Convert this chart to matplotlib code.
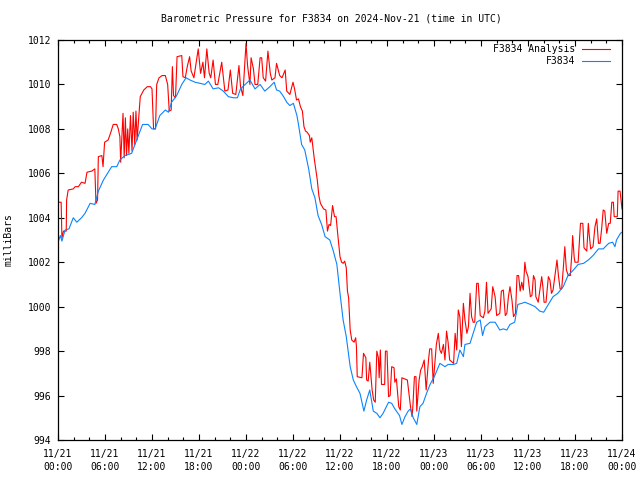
import numpy as np
import matplotlib
matplotlib.use("Agg")
import matplotlib.pyplot as plt

# Barometric pressure, station F3834 vs analysis, 3 days from 2024-11-21 00 UTC
# hours since 11/21 00:00, values in millibars
obs_hours = [0.0, 0.3, 0.5, 0.9, 1.4, 1.95, 2.4, 3.0, 3.45, 4.1, 4.7, 5.15, 5.8, 6.85,
             7.5, 7.9, 8.55, 9.4, 10.05, 10.8, 11.5, 12.0, 12.4, 13.0, 13.7, 14.1, 14.5,
             15.15, 15.8, 16.35, 16.85, 17.5, 18.1, 18.75, 19.2, 19.8, 20.5, 21.1, 21.75,
             22.4, 22.9, 23.3, 23.9, 24.5, 25.15, 25.8, 26.4, 27.05, 27.6, 27.9, 28.3,
             28.8, 29.2, 29.6, 30.05, 30.5, 30.7, 31.1, 31.5, 32.0, 32.4, 32.8, 33.2,
             33.65, 34.1, 34.7, 35.15, 35.6, 36.0, 36.4, 36.8, 37.3, 37.7, 38.1, 38.55,
             39.05, 39.4, 39.8, 40.25, 40.7, 41.1, 41.5, 42.2, 42.6, 43.0, 43.6, 43.9,
             44.3, 44.7, 45.0, 45.35, 45.8, 46.2, 46.6, 47.05, 47.5, 48.1, 48.75, 49.4,
             49.8, 50.5, 50.9, 51.3, 51.75, 51.95, 52.6, 53.0, 53.45, 53.9, 54.2, 54.5,
             55.15, 55.8, 56.4, 56.85, 57.3, 57.7, 58.3, 58.7, 59.2, 59.6, 60.3, 60.9,
             61.5, 62.0, 62.6, 63.2, 63.8, 64.5, 65.1, 65.8, 66.4, 67.1, 67.7, 68.3,
             69.0, 69.6, 70.3, 70.8, 71.1, 71.3, 71.8, 72.0]
obs_mb = [1002.9, 1003.2, 1002.95, 1003.45, 1003.5, 1004.0, 1003.8, 1004.0, 1004.2,
          1004.65, 1004.6, 1005.2, 1005.7, 1006.3, 1006.3, 1006.6, 1006.8, 1006.9, 1007.5,
          1008.2, 1008.2, 1008.0, 1008.0, 1008.6, 1008.85, 1008.75, 1009.2, 1009.5, 1010.0,
          1010.3, 1010.2, 1010.1, 1010.05, 1010.0, 1010.15, 1009.8, 1009.85, 1009.7,
          1009.45, 1009.4, 1009.4, 1009.8, 1010.0, 1010.2, 1009.8, 1010.0, 1009.7, 1009.9,
          1010.1, 1009.75, 1009.7, 1009.45, 1009.2, 1009.05, 1009.15, 1008.6, 1008.2,
          1007.3, 1007.05, 1006.2, 1005.3, 1004.9, 1004.1, 1003.7, 1003.15, 1003.0, 1002.5,
          1001.9, 1000.6, 999.4, 998.65, 997.3, 996.7, 996.4, 996.1, 995.3, 995.8, 996.25,
          995.3, 995.2, 995.0, 995.2, 995.7, 995.65, 995.4, 995.1, 994.7, 995.05, 995.3,
          995.4, 995.0, 994.7, 995.5, 995.65, 996.1, 996.5, 996.9, 997.45, 997.3, 997.4,
          997.4, 997.45, 998.05, 997.75, 998.3, 998.35, 998.8, 999.3, 999.4, 998.7, 999.1,
          999.3, 999.3, 998.95, 999.0, 998.95, 999.2, 999.3, 1000.1, 1000.15, 1000.2,
          1000.1, 1000.0, 999.8, 999.75, 1000.1, 1000.45, 1000.6, 1000.9, 1001.4, 1001.65,
          1001.9, 1001.95, 1002.1, 1002.3, 1002.6, 1002.6, 1002.85, 1002.9, 1002.7, 1003.0,
          1003.3, 1003.35]

ana_hours = [0.0, 0.05, 0.4, 0.5, 0.7, 1.05, 1.1, 1.3, 1.95, 2.2, 2.6, 3.0, 3.45, 3.7,
             4.3, 4.7, 4.85, 5.05, 5.15, 5.6, 5.75, 5.95, 6.4, 6.7, 7.05, 7.5, 7.7, 7.9,
             8.0, 8.3, 8.45, 8.6, 8.75, 8.9, 9.05, 9.25, 9.45, 9.6, 9.8, 9.95, 10.1, 10.5,
             10.95, 11.4, 11.8, 12.0, 12.2, 12.45, 12.6, 12.9, 13.3, 13.7, 14.0, 14.2,
             14.45, 14.6, 14.75, 15.0, 15.2, 15.8, 15.95, 16.25, 16.5, 16.8, 17.0, 17.35,
             17.6, 17.9, 18.2, 18.5, 18.7, 19.0, 19.3, 19.5, 19.8, 20.1, 20.4, 20.9, 21.3,
             21.7, 22.0, 22.3, 22.7, 23.1, 23.3, 23.6, 24.0, 24.2, 24.5, 24.65, 24.95,
             25.15, 25.5, 25.8, 26.0, 26.2, 26.5, 26.8, 27.1, 27.3, 27.7, 27.9, 28.3, 28.6,
             29.0, 29.2, 29.6, 30.0, 30.2, 30.45, 30.7, 30.95, 31.2, 31.4, 31.6, 31.8,
             32.1, 32.2, 32.4, 32.7, 32.9, 33.1, 33.3, 33.5, 33.9, 34.2, 34.4, 34.6, 34.8,
             35.05, 35.3, 35.5, 35.7, 36.0, 36.2, 36.4, 36.6, 36.8, 36.95, 37.1, 37.3,
             37.5, 37.8, 38.0, 38.1, 38.2, 38.8, 39.0, 39.3, 39.4, 39.6, 39.8, 40.1, 40.3,
             40.5, 40.7, 40.9, 41.0, 41.15, 41.3, 41.7, 41.8, 42.0, 42.2, 42.4, 42.6, 42.9,
             43.0, 43.2, 43.5, 43.7, 43.9, 44.6, 44.8, 45.0, 45.2, 45.3, 45.5, 45.7, 45.8,
             46.1, 46.3, 46.5, 46.75, 47.0, 47.3, 47.45, 47.7, 47.9, 48.1, 48.3, 48.55,
             48.75, 48.95, 49.2, 49.4, 49.6, 49.8, 50.0, 50.5, 50.7, 50.9, 51.1, 51.3, 51.5,
             51.75, 51.95, 52.2, 52.4, 52.6, 52.8, 53.0, 53.2, 53.45, 53.65, 53.9, 54.3,
             54.5, 54.7, 54.9, 55.3, 55.5, 55.8, 56.0, 56.4, 56.6, 56.85, 57.1, 57.3, 57.5,
             57.7, 57.95, 58.15, 58.4, 58.6, 58.8, 59.0, 59.2, 59.4, 59.6, 59.75, 60.0,
             60.3, 60.5, 60.7, 60.9, 61.0, 61.3, 61.75, 61.9, 62.05, 62.3, 62.6, 62.8, 63.0,
             63.2, 63.7, 63.9, 64.1, 64.3, 64.5, 64.7, 64.9, 65.15, 65.4, 65.6, 65.7, 65.9,
             66.0, 66.4, 66.7, 67.0, 67.15, 67.5, 67.7, 67.8, 68.0, 68.3, 68.55, 68.77,
             69.0, 69.2, 69.4, 69.6, 69.8, 70.05, 70.3, 70.5, 70.7, 70.9, 71.0, 71.4, 71.5,
             71.75, 72.0]
ana_mb = [1003.1, 1004.7, 1004.7, 1003.1, 1003.4, 1003.4, 1004.8, 1005.25, 1005.3,
          1005.4, 1005.4, 1005.6, 1005.55, 1006.05, 1006.1, 1006.2, 1004.65, 1004.8,
          1006.75, 1006.8, 1006.3, 1007.4, 1007.5, 1007.8, 1008.2, 1008.2, 1008.0,
          1007.65, 1006.5, 1008.7, 1006.7, 1008.5, 1006.8, 1008.0, 1006.9, 1008.6, 1007.0,
          1008.75, 1007.3, 1008.8, 1007.5, 1009.45, 1009.75, 1009.9, 1009.9, 1009.8,
          1008.0, 1008.0, 1010.0, 1010.3, 1010.4, 1010.4, 1010.0, 1008.8, 1008.85,
          1010.8, 1009.5, 1009.4, 1011.25, 1011.3, 1010.35, 1010.3, 1010.8, 1011.25,
          1010.6, 1010.3, 1010.9, 1011.6, 1010.5, 1011.0, 1010.3, 1011.6, 1010.5, 1010.3,
          1011.1, 1010.0, 1010.0, 1011.0, 1009.7, 1009.75, 1010.65, 1009.6, 1009.55,
          1010.85, 1009.9, 1009.5, 1011.85, 1010.85, 1010.0, 1011.2, 1010.7, 1010.0,
          1010.0, 1011.2, 1011.2, 1010.3, 1010.15, 1011.5, 1010.5, 1010.2, 1010.3,
          1010.95, 1010.4, 1010.3, 1010.65, 1009.7, 1009.55, 1010.1, 1009.8, 1009.3,
          1009.35, 1009.0, 1008.8, 1008.1, 1007.9, 1007.85, 1007.7, 1007.4, 1007.6,
          1006.7, 1006.2, 1005.7, 1005.0, 1004.65, 1004.4, 1004.35, 1003.4, 1003.7,
          1003.65, 1004.55, 1004.05, 1004.05, 1003.3, 1002.25, 1002.0, 1001.95, 1002.05,
          1001.75, 1000.7, 1000.4, 998.95, 998.5, 998.4, 998.6, 998.2, 996.85, 996.8,
          997.9, 997.7, 996.7, 996.65, 997.5, 996.25, 995.8, 995.7, 998.0, 997.7, 996.8,
          998.05, 996.5, 996.5, 998.0, 998.0, 995.95, 996.0, 997.3, 997.25, 996.6,
          996.75, 995.5, 995.35, 996.8, 996.7, 996.1, 995.5, 995.05, 995.5, 996.85,
          996.85, 995.3, 996.7, 997.15, 997.3, 997.6, 996.25, 997.6, 998.1, 998.1, 996.55,
          997.4, 998.3, 998.8, 998.05, 997.9, 998.3, 997.6, 998.9, 998.4, 997.6, 997.45,
          998.8, 998.05, 999.85, 999.55, 998.2, 1000.15, 999.4, 998.8, 999.1, 1000.6,
          999.55, 999.3, 999.3, 1001.05, 1001.05, 999.6, 999.5, 999.8, 1001.1, 999.7,
          999.9, 1000.9, 1000.45, 999.6, 999.7, 1000.7, 1000.75, 999.6, 999.7, 1000.45,
          1000.9, 1000.3, 999.55, 999.7, 1001.4, 1001.4, 1000.7, 1001.1, 1000.75, 1002.0,
          1001.6, 1001.35, 1000.45, 1000.5, 1001.4, 1001.2, 1000.45, 1000.2, 1001.35,
          1000.9, 1000.2, 1000.2, 1001.35, 1001.2, 1000.6, 1000.75, 1002.1, 1001.35,
          1000.8, 1000.8, 1001.7, 1002.7, 1001.65, 1001.4, 1001.4, 1002.4, 1003.2, 1002.2,
          1002.0, 1002.0, 1003.75, 1003.75, 1002.65, 1002.5, 1003.75, 1003.3, 1002.6,
          1002.7, 1003.6, 1003.95, 1002.85, 1002.85, 1003.5, 1004.35, 1004.3, 1003.3,
          1003.75, 1003.75, 1004.7, 1004.7, 1004.05, 1004.05, 1005.2, 1005.2, 1004.4]

xtick_hours = list(range(0, 73, 6))
xtick_labels = ["11/21\n00:00", "11/21\n06:00", "11/21\n12:00", "11/21\n18:00",
                "11/22\n00:00", "11/22\n06:00", "11/22\n12:00", "11/22\n18:00",
                "11/23\n00:00", "11/23\n06:00", "11/23\n12:00", "11/23\n18:00",
                "11/24\n00:00"]
ytick_vals = [994, 996, 998, 1000, 1002, 1004, 1006, 1008, 1010, 1012]

plt.rcParams['font.family'] = ['DejaVu Sans Mono']
fs = 7.0

fig = plt.figure(figsize=(6.4, 4.8), dpi=100)
ax = fig.add_axes([58 / 640, 40 / 480, 564 / 640, 400 / 480])

ax.plot(ana_hours, ana_mb, color='#ff0000', lw=0.8, label='F3834 Analysis')
ax.plot(obs_hours, obs_mb, color='#0a84ff', lw=0.8, label='F3834')

ax.set_xlim(0, 72)
ax.set_ylim(994, 1012)
ax.set_xticks(xtick_hours)
ax.set_xticklabels(xtick_labels, fontsize=fs, linespacing=1.4)
ax.set_xticks(range(0, 73, 2), minor=True)
ax.set_yticks(ytick_vals)
ax.set_yticklabels([str(v) for v in ytick_vals], fontsize=fs)

ax.tick_params(axis='both', which='both', direction='in', top=True, right=True,
               color='black', width=0.8)
ax.tick_params(axis='both', which='major', length=4.5, pad=5)
ax.tick_params(axis='x', which='major', pad=6.5)
ax.tick_params(axis='x', which='minor', length=2.5)
for s in ax.spines.values():
    s.set_linewidth(0.9)

ax.set_ylabel('milliBars', fontsize=fs, labelpad=10)
ax.set_title('Barometric Pressure for F3834 on 2024-Nov-21 (time in UTC)',
             fontsize=fs, pad=13, x=0.484)

ax.legend(loc='upper right', bbox_to_anchor=(1 - 10 / 564, 1 - 2 / 400),
          frameon=False, markerfirst=False, fontsize=fs,
          handlelength=2.9, handletextpad=0.7, labelspacing=0.25,
          borderaxespad=0.0, borderpad=0.2)

fig.savefig('out.png', dpi=100)
